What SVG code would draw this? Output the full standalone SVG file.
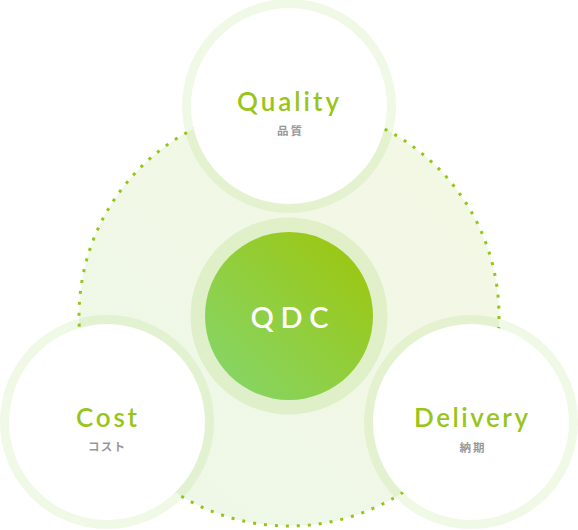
<svg xmlns="http://www.w3.org/2000/svg" width="578" height="530" viewBox="0 0 578 530">
<defs>
<linearGradient id="bigFill" x1="0" y1="1" x2="1" y2="0">
<stop offset="0" stop-color="#eef7e8"/>
<stop offset="1" stop-color="#f3f8e3"/>
</linearGradient>
<linearGradient id="core" x1="0.1" y1="0.9" x2="0.9" y2="0.1">
<stop offset="0" stop-color="#86d566"/>
<stop offset="1" stop-color="#9cc712"/>
</linearGradient>
<style>
.ring{fill:#8cc83c;fill-opacity:0.13}
.inner{fill:#ffffff}
.en{font-family:"Lato","Open Sans",sans-serif;font-weight:600;fill:#98c51a;font-size:26px;text-anchor:middle}
.ja{font-family:"Noto Sans CJK JP","Noto Sans",sans-serif;font-size:11.5px;fill:#999999;text-anchor:middle;font-weight:700}
.dots{fill:none;stroke:#95c51a;stroke-width:3;stroke-dasharray:3 7.996}
</style>
</defs>
<g id="background">
<circle cx="289" cy="316" r="210" fill="url(#bigFill)"/>
</g>
<g id="connectors">
<circle class="dots" cx="289" cy="316" r="210"/>
</g>
<g id="qdc">
<circle class="ring" cx="289" cy="316" r="98.5" style="fill-opacity:0.17"/>
<circle cx="289" cy="316" r="84" fill="url(#core)"/>
<text x="289.5" y="328" font-family="Lato,'Open Sans',sans-serif" font-weight="600" font-size="29" fill="#ffffff" text-anchor="middle" textLength="78" lengthAdjust="spacing">QDC</text>
</g>
<g id="quality">
<circle class="ring" cx="289" cy="106" r="107"/>
<circle class="inner" cx="289" cy="106" r="98"/>
<text class="en" x="288" y="111" textLength="102" lengthAdjust="spacing">Quality</text>
<text class="ja" x="289.5" y="135" textLength="25" lengthAdjust="spacing">品質</text>
</g>
<g id="cost">
<circle class="ring" cx="107" cy="422" r="107"/>
<circle class="inner" cx="107" cy="422" r="98"/>
<text class="en" x="106.5" y="427" textLength="61" lengthAdjust="spacing">Cost</text>
<text class="ja" x="106.5" y="451" textLength="37" lengthAdjust="spacing">コスト</text>
</g>
<g id="delivery">
<circle class="ring" cx="471" cy="422" r="107"/>
<circle class="inner" cx="471" cy="422" r="98"/>
<text class="en" x="471" y="427" textLength="114" lengthAdjust="spacing">Delivery</text>
<text class="ja" x="472" y="452" textLength="25" lengthAdjust="spacing">納期</text>
</g>
</svg>
